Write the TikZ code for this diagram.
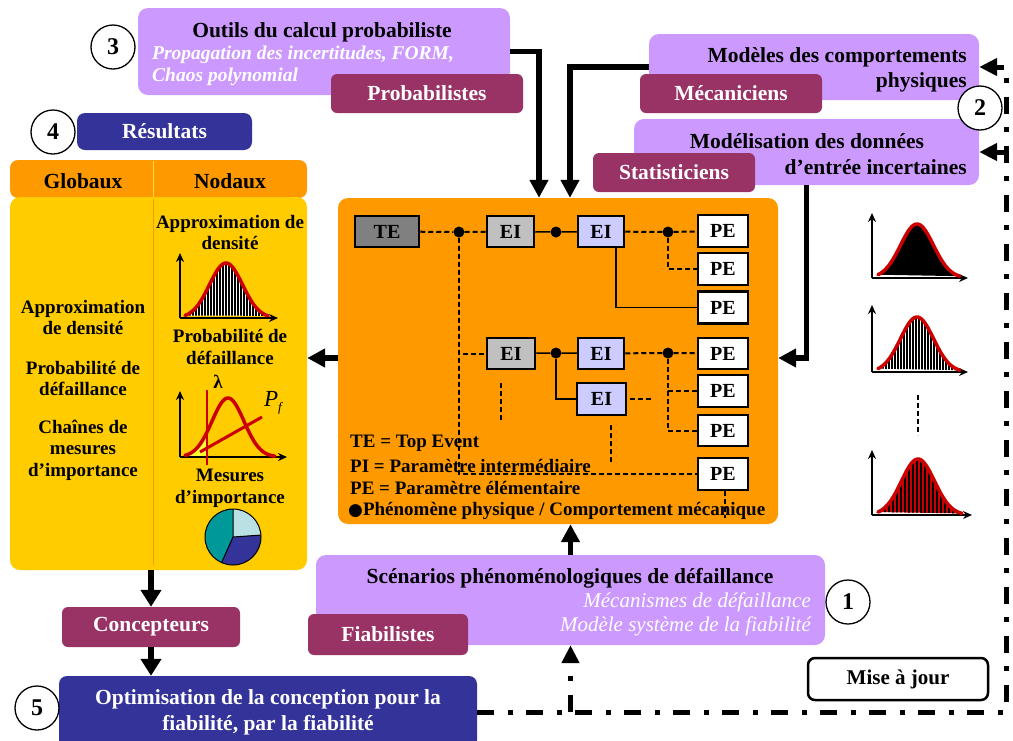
\documentclass[tikz,border=0pt]{standalone}
\usepackage{fontspec}
\setmainfont{Liberation Serif}
\newfontfamily\symfont{DejaVu Sans}
\usetikzlibrary{arrows.meta}
\definecolor{lav}{HTML}{CC99FF}
\definecolor{maroonc}{HTML}{993366}
\definecolor{dblue}{HTML}{333399}
\definecolor{orng}{HTML}{FF9900}
\definecolor{yel}{HTML}{FFCC00}
\definecolor{eigray}{HTML}{C0C0C0}
\definecolor{tegray}{HTML}{808080}
\definecolor{eilav}{HTML}{CCCCFF}
\definecolor{pielight}{HTML}{BBE0E3}
\definecolor{pieteal}{HTML}{009999}
\definecolor{cred}{HTML}{CC0000}
\definecolor{lightyel}{HTML}{FFFF33}
\begin{document}
\begin{tikzpicture}[x=1pt,y=-1pt,
 declare function={g(\t,\m,\s)=exp(-0.5*((\t-\m)/\s)*((\t-\m)/\s));},
 lavbox/.style={fill=lav, rounded corners=10pt, inner sep=0pt},
 rolebox/.style={fill=maroonc, rounded corners=6pt, text=white, inner sep=0pt, font=\fontsize{21.5}{23}\selectfont\bfseries},
 bluebox/.style={fill=dblue, rounded corners=8pt, text=white, inner sep=0pt, font=\fontsize{21.5}{26}\selectfont\bfseries, align=center},
 numc/.style={circle, draw, line width=1.3pt, fill=white, minimum size=44pt, inner sep=0pt, font=\fontsize{24}{24}\selectfont\bfseries},
 ttl/.style={inner sep=0pt, font=\fontsize{21.5}{23}\selectfont\bfseries},
 wit/.style={inner sep=0pt, text=white, font=\fontsize{19.5}{22}\selectfont\bfseries\itshape},
 wi/.style={inner sep=0pt, text=white, font=\fontsize{21}{23}\selectfont\itshape},
 lg/.style={inner sep=0pt, font=\fontsize{19}{21.5}\selectfont\bfseries, align=center},
 febox/.style={draw, line width=2.5pt, inner sep=0pt, minimum height=31pt, font=\fontsize{20}{20}\selectfont\bfseries},
 dotn/.style={circle, fill, inner sep=0pt, minimum size=11pt},
 dsh/.style={line width=2pt, dash pattern=on 5pt off 3pt},
 sol/.style={line width=1.5pt},
 bigarrow/.style={line width=5.5pt, -{Triangle[length=18pt,width=18pt]}},
 bigarrowb/.style={line width=6pt, -{Triangle[length=17pt,width=20pt]}},
 dashdot/.style={line width=5pt, dash pattern=on 17pt off 14pt on 5pt off 13pt, -{Triangle[length=18pt,width=17pt]}},
 redc/.style={cred, line width=3.5pt, line cap=round},
 axisl/.style={line width=2.2pt, -{Stealth[length=9pt,width=8pt]}}
]
\useasboundingbox (0,0) rectangle (1013,740);

% ---------- top boxes ----------
\node[lavbox, minimum width=372pt, minimum height=87pt] (outils) at (324,51.5) {};
\node[rolebox, minimum width=192pt, minimum height=39pt] (prob) at (427,93.5) {Probabilistes};
\node[ttl] (outT) at (322,32) {Outils du calcul probabiliste};
\node[wit, anchor=west] (outI1) at (152,55) {Propagation des incertitudes, FORM,};
\node[wit, anchor=west] (outI2) at (152,77) {Chaos polynomial};

\node[lavbox, minimum width=330pt, minimum height=66pt] (modeles) at (814,67) {};
\node[rolebox, minimum width=182pt, minimum height=39pt] (meca) at (731,93.5) {Mécaniciens};
\node[ttl, anchor=east] (modT1) at (967,57) {Modèles des comportements};
\node[ttl, anchor=east] (modT2) at (967,82) {physiques};

\node[lavbox, minimum width=345pt, minimum height=66pt] (modelis) at (806.5,152) {};
\node[rolebox, minimum width=162pt, minimum height=39pt] (stat) at (674,172.5) {Statisticiens};
\node[ttl] (mdT1) at (807,141) {Modélisation des données};
\node[ttl, anchor=east] (mdT2) at (967,167) {d’entrée incertaines};

% ---------- results ----------
\node[bluebox, minimum width=175pt, minimum height=37pt] (res) at (164.5,131.5) {Résultats};
\node[fill=orng, rounded corners=8pt, minimum width=297pt, minimum height=38pt, inner sep=0pt] (head) at (158.5,179) {};
\node[fill=yel, rounded corners=10pt, minimum width=297pt, minimum height=373pt, inner sep=0pt] (yellow) at (158.5,383.5) {};
\draw[yel!70!white, line width=1pt] (153,161) -- (153,197);
\draw[orng, line width=1pt] (153,199) -- (153,565);
\node[ttl] (glob) at (83,181) {Globaux};
\node[ttl] (noda) at (230,181) {Nodaux};

\node[lg] (g1) at (83,317.5) {Approximation\\de densité};
\node[lg] (g2) at (83,378.5) {Probabilité de\\défaillance};
\node[lg] (g3) at (83,450) {Chaînes de\\mesures\\d’importance};

\node[lg] (n1) at (230,232.5) {Approximation de\\densité};
\node[lg] (n2) at (230,347) {Probabilité de\\défaillance};
\node[lg] (n3) at (230,488.5) {Mesures\\d’importance};

% density plot (nodal)
\begin{scope}
\clip plot[domain=185:268,samples=50] (\x,{318-55*g(\x,226,16.5)}) -- cycle;
\fill[white] (180,250) rectangle (280,320);
\foreach \i in {184,187,...,270} \draw[line width=1.3pt] (\i,250) -- (\i,320);
\end{scope}
\draw[axisl] (180,318) -- (180,253);
\draw[axisl] (180,318) -- (278,318);
\draw[redc] plot[domain=185:268,samples=50,smooth] (\x,{318-55*g(\x,226,16.5)});

% lambda plot
\fill[lightyel] plot[domain=185:207,samples=20] (\x,{457-59*g(\x,228,16)}) -- (207,457) -- (185,457) -- cycle;
\draw[axisl] (180,457) -- (180,391);
\draw[axisl] (180,457) -- (287,457);
\draw[redc] plot[domain=185:275,samples=50,smooth] (\x,{457-59*g(\x,228,16)});
\draw[cred, line width=2pt] (207,390) -- (207,465);
\draw[cred, line width=3pt] (200,452) -- (262,417);
\node[inner sep=0pt, font=\fontsize{19}{19}\selectfont\bfseries] (lam) at (218,382) {λ};
\node[inner sep=0pt, font=\fontsize{23}{23}\selectfont\itshape] (pf) at (273,403) {P\raisebox{-5pt}{\fontsize{13}{13}\selectfont f}};

% pie
\begin{scope}[shift={(233,537)},y=1pt]
\fill[pielight] (0,0) -- (4:28) arc[start angle=4,end angle=90,radius=28] -- cycle;
\fill[pieteal] (0,0) -- (90:28) arc[start angle=90,end angle=246,radius=28] -- cycle;
\fill[dblue] (0,0) -- (246:28) arc[start angle=246,end angle=364,radius=28] -- cycle;
\draw[line width=1pt] (0,0) circle[radius=28];
\draw[line width=1pt] (4:28) -- (0,0) -- (90:28) (0,0) -- (246:28);
\end{scope}

% ---------- central orange box ----------
\node[fill=orng, rounded corners=10pt, minimum width=440pt, minimum height=326pt, inner sep=0pt] (orange) at (558,361) {};

\node[febox, fill=tegray, minimum width=64pt] (TE) at (387,231.5) {TE};
\node[febox, fill=eigray, minimum width=47pt] (EI1) at (510.5,231.5) {EI};
\node[febox, fill=eilav, minimum width=46pt] (EI2) at (601,231.5) {EI};
\node[febox, fill=white, minimum width=50pt, minimum height=32pt] (PE1) at (723,231) {PE};
\node[febox, fill=white, minimum width=50pt, minimum height=32pt] (PE2) at (723,269) {PE};
\node[febox, fill=white, minimum width=50pt, minimum height=32pt] (PE3) at (723,307.5) {PE};
\node[febox, fill=eigray, minimum width=48pt] (EI3) at (511,353.5) {EI};
\node[febox, fill=eilav, minimum width=46pt] (EI4) at (601,353.5) {EI};
\node[febox, fill=eilav, minimum width=49pt, minimum height=32pt] (EI5) at (601.5,399) {EI};
\node[febox, fill=white, minimum width=50pt, minimum height=31pt] (PE4) at (723,353.5) {PE};
\node[febox, fill=white, minimum width=50pt, minimum height=32pt] (PE5) at (723,391) {PE};
\node[febox, fill=white, minimum width=50pt, minimum height=31pt] (PE6) at (723,430.5) {PE};
\node[febox, fill=white, minimum width=50pt, minimum height=32pt] (PE7) at (723,474) {PE};

\node[dotn] (d1) at (459,232) {};
\node[dotn] (d2) at (556,232) {};
\node[dotn] (d3) at (668,232) {};
\node[dotn] (d4) at (556,353) {};
\node[dotn] (d5) at (668,353) {};

\coordinate (e5end) at (652,399);
\coordinate (v1a) at (501,383);
\coordinate (v1b) at (501,422);
\coordinate (v2a) at (611,425);
\coordinate (v2b) at (611,463);
\coordinate (v3b) at (725,518);

\draw[dsh] (TE) -- (d1);
\draw[dsh] (d1) -- (EI1);
\draw[sol] (EI1) -- (d2) -- (EI2);
\draw[dsh] (EI2) -- (d3) -- (PE1);
\draw[dsh] (d3) |- (PE2);
\draw[sol] ([xshift=15pt]EI2.south) |- (PE3);
\draw[dsh] (d1) |- (PE7);
\draw[dsh] (d1) |- (EI3);
\draw[sol] (EI3) -- (d4) -- (EI4);
\draw[dsh] (EI4) -- (d5) -- (PE4);
\draw[dsh] (d5) |- (PE5);
\draw[dsh] (d5) |- (PE6);
\draw[sol] (d4) |- (EI5);
\draw[dsh] ([xshift=3pt]EI5.east) -- (e5end);
\draw[dsh] (v1a) -- (v1b);
\draw[dsh] (v2a) -- (v2b);
\draw[dsh] ([xshift=2pt]PE7.south) -- (v3b);

\node[lg, anchor=west] (l1) at (350,443) {TE = Top Event};
\node[lg, anchor=west] (l2) at (350,466) {PI = Paramètre intermédiaire};
\node[lg, anchor=west] (l3) at (350,488) {PE = Paramètre élémentaire};
\node[lg, anchor=west] (l4) at (348,511) {{\symfont\fontsize{17}{17}\selectfont ●}Phénomène physique / Comportement mécanique};

% ---------- right distributions ----------
% plot 1
\fill plot[domain=878:960,samples=50] (\x,{278-54*g(\x,917,16.5)}) -- cycle;
\draw[axisl] (872,278) -- (872,213);
\draw[axisl] (872,278) -- (968,278);
\draw[redc] plot[domain=878:960,samples=50,smooth] (\x,{278-54*g(\x,917,16.5)});
% plot 2
\begin{scope}
\clip plot[domain=878:960,samples=50] (\x,{372-55*g(\x,917,16.5)}) -- cycle;
\fill[white] (870,300) rectangle (970,375);
\foreach \i in {877,880,...,962} \draw[line width=1.5pt] (\i,300) -- (\i,375);
\end{scope}
\draw[axisl] (872,372) -- (872,305);
\draw[axisl] (872,372) -- (968,372);
\draw[redc] plot[domain=878:960,samples=50,smooth] (\x,{372-55*g(\x,917,16.5)});
% dots
\coordinate (vd1) at (918,395);
\coordinate (vd2) at (918,435);
\draw[line width=2.5pt, dash pattern=on 5pt off 3pt] (vd1) -- (vd2);
% plot 3
\begin{scope}
\clip plot[domain=878:962,samples=50] (\x,{515-56*g(\x,918,16.5)}) -- cycle;
\fill[cred] (870,445) rectangle (970,520);
\foreach \i in {877,881,...,965} \draw[line width=1.3pt] (\i,445) -- (\i,520);
\end{scope}
\draw[axisl] (872,515) -- (872,450);
\draw[axisl] (872,515) -- (972,515);
\draw[redc] plot[domain=878:962,samples=50,smooth] (\x,{515-56*g(\x,918,16.5)});

% ---------- bottom ----------
\node[lavbox, minimum width=509pt, minimum height=90pt] (scen) at (570.5,600) {};
\node[rolebox, minimum width=160pt, minimum height=41pt] (fiab) at (388,634.5) {Fiabilistes};
\node[ttl] (scT) at (570,578) {Scénarios phénoménologiques de défaillance};
\node[wi, anchor=east] (scI1) at (811,602) {Mécanismes de défaillance};
\node[wi, anchor=east] (scI2) at (811,626) {Modèle système de la fiabilité};

\node[draw, line width=2.5pt, rounded corners=7pt, fill=white, minimum width=180pt, minimum height=42pt, inner sep=0pt, font=\fontsize{21}{23}\selectfont\bfseries] (maj) at (898,679) {Mise à jour};
\node[rolebox, minimum width=178pt, minimum height=40pt] (conc) at (151,627) {Concepteurs};
\node[bluebox, minimum width=418pt, minimum height=72pt] (opt) at (268,712) {Optimisation de la conception pour la\\fiabilité, par la fiabilité};

% ---------- arrows ----------
\draw[bigarrow] (outils.east) -| ([xshift=-19pt]orange.north);
\draw[bigarrow] (modeles.west) -| ([xshift=12pt]orange.north);
\coordinate (cin) at ([yshift=3pt]orange.east);
\draw[bigarrow] (modelis.south) |- (cin);
\coordinate (dst) at ([yshift=3pt]orange.west);
\draw[bigarrow] (dst) -- (dst -| yellow.east);
\draw[bigarrow] (scen.north) -- (scen.north |- orange.south);
\draw[bigarrowb] (yellow.south -| conc.north) -- (conc.north);
\draw[bigarrowb] (conc.south) -- (conc.south |- opt.north);

\coordinate (rc) at (1006,67);
\draw[dashdot] (opt.east) -| (rc) -- (modeles.east);
\draw[dashdot] (modelis.east -| rc) -- (modelis.east);
\draw[dashdot] (scen.south |- opt.east) -- (scen.south);

% ---------- number circles ----------
\node[numc] (c1) at (848,602) {1};
\node[numc] (c2) at (980,108) {2};
\node[numc] (c3) at (113,47) {3};
\node[numc] (c4) at (53,132) {4};
\node[numc] (c5) at (37,708) {5};
\end{tikzpicture}
\end{document}
